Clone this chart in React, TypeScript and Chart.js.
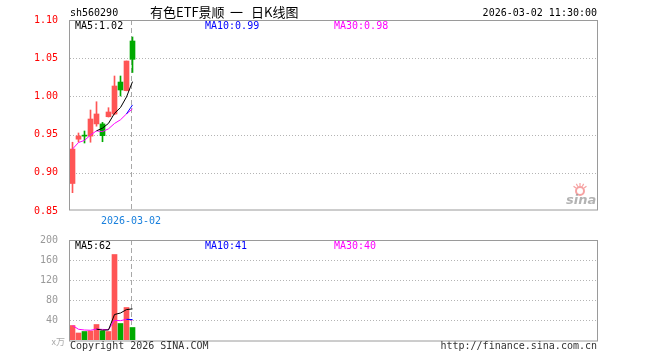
import React, { useEffect, useRef } from "react";
import { Chart, registerables } from "chart.js";

Chart.register(...registerables);

// ---------- text ----------
const symbol = "sh560290";
const chartTitle = "有色ETF景顺 一 日K线图";
const timestamp = "2026-03-02 11:30:00";
const markerDate = "2026-03-02";
const copyright = "Copyright 2026 SINA.COM";
const siteUrl = "http://finance.sina.com.cn";
const volumeUnit = "x万";

// ---------- daily K-line data (11 trading days) ----------
const opens = [0.886, 0.944, 0.948, 0.948, 0.964, 0.964, 0.9734, 0.977, 1.0188, 1.0075, 1.0725];
const highs = [0.94, 0.9521, 0.9547, 0.9822, 0.993, 0.966, 0.9852, 1.0267, 1.0267, 1.0463, 1.0778];
const lows = [0.874, 0.9403, 0.939, 0.94, 0.961, 0.9407, 0.973, 0.976, 1.0005, 1.0072, 1.0313];
const closes = [0.9311, 0.9482, 0.948, 0.9704, 0.977, 0.9486, 0.9796, 1.0136, 1.0084, 1.0463, 1.0485];
const volumes = [29, 14, 17, 18, 31, 18, 17, 171, 33, 65, 25];

// ---------- axis ticks ----------
const priceTicks = [0.85, 0.9, 0.95, 1.0, 1.05, 1.1];
const volumeTicks = [0, 40, 80, 120, 160, 200];

// ---------- style ----------
const UP = "#ff5555";
const DOWN = "#00aa00";
const MONO = '"DejaVu Sans Mono", monospace';
const SLOT_MIN = -0.4167;
const SLOT_COUNT = 87.833;

const dayIndex = closes.map((_, i) => i);
const lastIdx = closes.length - 1;
const isUp = (i: number) => closes[i] > opens[i];

function movingAvg(arr: number[], n: number): (number | null)[] {
  return arr.map((_, i) => {
    if (i < n - 1) return null;
    let s = 0;
    for (let k = i - n + 1; k <= i; k++) s += arr[k];
    return s / n;
  });
}
function partialAvg(arr: number[], n: number): number[] {
  return arr.map((_, i) => {
    const from = Math.max(0, i - n + 1);
    let s = 0;
    for (let k = from; k <= i; k++) s += arr[k];
    return s / (i - from + 1);
  });
}

const pMA5 = movingAvg(closes, 5);
const pMA10 = movingAvg(closes, 10);
const pMA30 = partialAvg(closes, 30);
const vMA5 = movingAvg(volumes, 5);
const vMA10 = movingAvg(volumes, 10);
const vMA30 = partialAvg(volumes, 30);

const pts = (arr: (number | null)[]) => arr.map((y, i) => ({ x: dayIndex[i], y }));

function xScale() {
  return { type: "linear", display: false, min: SLOT_MIN, max: SLOT_MIN + SLOT_COUNT, offset: false };
}

function lineDs(data: (number | null)[], color: string) {
  return {
    type: "line",
    data: pts(data),
    borderColor: color,
    borderWidth: 1,
    pointRadius: 0,
    tension: 0,
    spanGaps: false,
    order: 1,
  };
}

function hline(ctx: CanvasRenderingContext2D, x1: number, x2: number, y: number) {
  ctx.beginPath();
  ctx.moveTo(x1, y);
  ctx.lineTo(x2, y);
  ctx.stroke();
}

function drawGridAndMarker(chart: any, ticks: number[]) {
  const { ctx, chartArea: a, scales } = chart;
  ctx.save();
  ctx.lineWidth = 1;
  ctx.strokeStyle = "#b4b4b4";
  ctx.setLineDash([1, 2]);
  ticks.slice(1, -1).forEach((v) => {
    const y = Math.round(scales.y.getPixelForValue(v)) + 0.5;
    hline(ctx, a.left, a.right, y);
  });
  ctx.setLineDash([5, 3]);
  ctx.strokeStyle = "#a8a8a8";
  const xd = Math.round(scales.x.getPixelForValue(dayIndex[lastIdx])) - 2 + 0.5;
  ctx.beginPath();
  ctx.moveTo(xd, a.top);
  ctx.lineTo(xd, a.bottom);
  ctx.stroke();
  ctx.restore();
}

function drawFrame(chart: any, bottomOffset: number) {
  const { ctx, chartArea: a } = chart;
  ctx.save();
  ctx.setLineDash([]);
  ctx.lineWidth = 1;
  ctx.strokeStyle = "#9a9a9a";
  ctx.strokeRect(a.left - 0.5, a.top + 0.5, a.right - a.left + 1, a.bottom + bottomOffset - a.top - 0.5);
  ctx.restore();
}

function text(ctx: CanvasRenderingContext2D, s: string, x: number, y: number, color: string, font: string, align: CanvasTextAlign = "left") {
  ctx.font = font;
  ctx.fillStyle = color;
  ctx.textAlign = align;
  ctx.textBaseline = "middle";
  ctx.fillText(s, x, y);
}

const pricePlugin = {
  id: "priceDecor",
  beforeDatasetsDraw(chart: any) {
    drawGridAndMarker(chart, priceTicks);
  },
  afterDatasetsDraw(chart: any) {
    drawFrame(chart, -1);
  },
  afterDraw(chart: any) {
    const { ctx, chartArea: a, scales } = chart;
    ctx.save();
    const f10 = `10px ${MONO}`;
    text(ctx, symbol, a.left, 13, "#000", f10);
    // title words laid out with the wide gaps of the original
    const titleFont = '13px "Noto Sans CJK SC", sans-serif';
    const words = chartTitle.split(" ");
    const starts = [150, 230, 251];
    words.forEach((w, k) => text(ctx, w, starts[k] ?? 251, 12.5, "#000", titleFont));
    text(ctx, timestamp, a.right, 13, "#000", f10, "right");
    text(ctx, `MA5:${(pMA5[lastIdx] as number).toFixed(2)}`, a.left + 5, 26.5, "#000", f10);
    text(ctx, `MA10:${(pMA10[lastIdx] as number).toFixed(2)}`, 205, 26.5, "#0000ff", f10);
    text(ctx, `MA30:${pMA30[lastIdx].toFixed(2)}`, 334, 26.5, "#ff00ff", f10);
    const xd = Math.round(scales.x.getPixelForValue(dayIndex[lastIdx])) - 2;
    text(ctx, markerDate, xd, 221, "#1a80dd", f10, "center");
    // sina logo (faded)
    ctx.globalAlpha = 0.55;
    ctx.strokeStyle = "#ee5555";
    ctx.fillStyle = "#ee5555";
    ctx.lineWidth = 2;
    ctx.beginPath();
    ctx.arc(580, 191, 4, 0, Math.PI * 2);
    ctx.stroke();
    ctx.lineWidth = 1.2;
    for (let k = 0; k < 5; k++) {
      const ang = -Math.PI * (0.2 + k * 0.15);
      ctx.beginPath();
      ctx.moveTo(580 + Math.cos(ang) * 5, 191 + Math.sin(ang) * 5);
      ctx.lineTo(580 + Math.cos(ang) * 8, 191 + Math.sin(ang) * 8);
      ctx.stroke();
    }
    ctx.globalAlpha = 0.75;
    ctx.font = 'italic bold 13px "DejaVu Sans", sans-serif';
    ctx.fillStyle = "#999";
    ctx.textAlign = "left";
    ctx.textBaseline = "alphabetic";
    ctx.fillText("sina", 566, 204);
    ctx.restore();
  },
};

const volumePlugin = {
  id: "volDecor",
  beforeDatasetsDraw(chart: any) {
    drawGridAndMarker(chart, volumeTicks);
  },
  afterDatasetsDraw(chart: any) {
    drawFrame(chart, 1);
  },
  afterDraw(chart: any) {
    const { ctx, chartArea: a } = chart;
    ctx.save();
    const f10 = `10px ${MONO}`;
    text(ctx, `MA5:${Math.round(vMA5[lastIdx] as number)}`, a.left + 5, 246.5, "#000", f10);
    text(ctx, `MA10:${Math.round(vMA10[lastIdx] as number)}`, 205, 246.5, "#0000ff", f10);
    text(ctx, `MA30:${Math.round(vMA30[lastIdx])}`, 334, 246.5, "#ff00ff", f10);
    text(ctx, volumeUnit, 65, 342, "#aaaaaa", '9px "Noto Sans CJK SC", sans-serif', "right");
    text(ctx, copyright, a.left, 346.5, "#333", f10);
    text(ctx, siteUrl, a.right, 346.5, "#333", f10, "right");
    ctx.restore();
  },
};

function yAxis(min: number, max: number, ticks: number[], color: string, fmt: (v: number) => string) {
  return {
    type: "linear",
    min,
    max,
    afterBuildTicks: (s: any) => {
      s.ticks = ticks.map((v) => ({ value: v }));
    },
    afterFit: (s: any) => {
      s.width = 70;
    },
    grid: { display: false },
    border: { display: false },
    ticks: {
      color,
      padding: 4,
      autoSkip: false,
      font: { family: MONO, size: 10 },
      callback: (v: any) => fmt(Number(v)),
    },
  };
}

function priceConfig(): any {
  const colors = dayIndex.map((i) => (isUp(i) ? UP : DOWN));
  return {
    type: "bar",
    data: {
      datasets: [
        lineDs(pMA5, "#000000"),
        lineDs(pMA10, "#0000ff"),
        lineDs(pMA30, "#ff00ff"),
        {
          type: "bar",
          data: dayIndex.map((i) => ({ x: i, y: [opens[i], closes[i]] })),
          backgroundColor: colors,
          borderWidth: 0,
          barThickness: 5,
          minBarLength: 1,
          grouped: false,
          order: 2,
        },
        {
          type: "bar",
          data: dayIndex.map((i) => ({ x: i, y: [lows[i], highs[i]] })),
          backgroundColor: colors,
          borderWidth: 0,
          barThickness: 1,
          grouped: false,
          order: 3,
        },
      ],
    },
    options: {
      responsive: false,
      animation: false,
      devicePixelRatio: 1,
      events: [],
      layout: { padding: { left: 0, right: 63, top: 20, bottom: 149 } },
      plugins: { legend: { display: false }, tooltip: { enabled: false } },
      scales: {
        x: xScale(),
        y: yAxis(0.85, 1.1, priceTicks, "#ff0000", (v) => v.toFixed(2)),
      },
    },
    plugins: [pricePlugin],
  };
}

function volumeConfig(): any {
  const colors = dayIndex.map((i) => (isUp(i) ? UP : DOWN));
  return {
    type: "bar",
    data: {
      datasets: [
        lineDs(vMA5, "#000000"),
        lineDs(vMA10, "#0000ff"),
        lineDs(vMA30, "#ff00ff"),
        {
          type: "bar",
          data: dayIndex.map((i) => ({ x: i, y: volumes[i] })),
          backgroundColor: colors,
          borderWidth: 0,
          barThickness: 5,
          grouped: false,
          order: 2,
        },
      ],
    },
    options: {
      responsive: false,
      animation: false,
      devicePixelRatio: 1,
      events: [],
      layout: { padding: { left: 0, right: 63, top: 240, bottom: 20 } },
      plugins: { legend: { display: false }, tooltip: { enabled: false } },
      scales: {
        x: xScale(),
        y: yAxis(0, 200, volumeTicks, "#999999", (v) => (v === 0 ? "" : String(v))),
      },
    },
    plugins: [volumePlugin],
  };
}

export default function App() {
  const priceRef = useRef<HTMLCanvasElement>(null);
  const volRef = useRef<HTMLCanvasElement>(null);
  useEffect(() => {
    const c1 = new Chart(priceRef.current as HTMLCanvasElement, priceConfig());
    const c2 = new Chart(volRef.current as HTMLCanvasElement, volumeConfig());
    return () => {
      c1.destroy();
      c2.destroy();
    };
  }, []);
  const cs: React.CSSProperties = { position: "absolute", left: 0, top: 0, width: 660, height: 360 };
  return (
    <div style={{ position: "absolute", left: 0, top: 0, width: 660, height: 360, background: "#fff" }}>
      <canvas ref={priceRef} width={660} height={360} style={cs} />
      <canvas ref={volRef} width={660} height={360} style={cs} />
    </div>
  );
}
